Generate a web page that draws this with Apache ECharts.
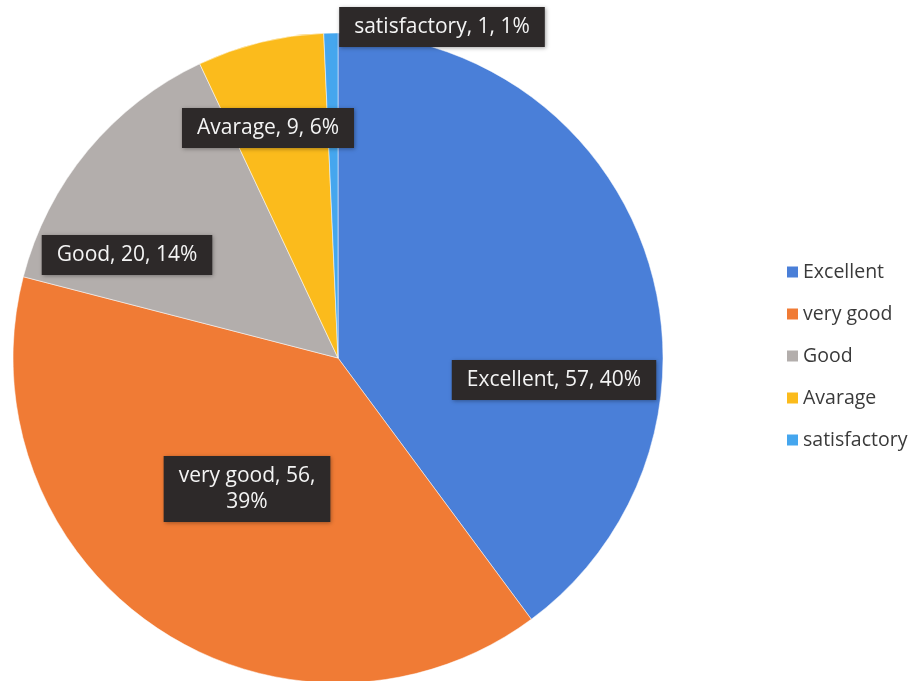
<!DOCTYPE html>
<html>
<head>
<meta charset="utf-8">
<script src="https://cdn.jsdelivr.net/npm/echarts@6/dist/echarts.min.js"></script>
<style>html,body{margin:0;padding:0;background:#fff}#c{width:912px;height:681px}</style>
</head>
<body>
<div id="c"></div>
<script>
var categories = ['Excellent', 'very good', 'Good', 'Avarage', 'satisfactory'];
var values = [57, 56, 20, 9, 1];
var colors = ['#4a7fd8', '#f07b35', '#b3aeac', '#fbbb1c', '#45a6ee'];
// label box centres (pixels)
var labelPos = [[554, 380], [247, 489], [127, 255], [268, 128], [442, 27]];

var chart = echarts.init(document.getElementById('c'));
var data = categories.map(function (n, i) {
  var item = { name: n, value: values[i], itemStyle: { color: colors[i] } };
  if (i === 1) item.label = { formatter: '{b}, {c},\n{d}%' };
  return item;
});
chart.setOption({
  backgroundColor: '#ffffff',
  animation: false,
  legend: {
    orient: 'vertical',
    left: 782,
    top: 257,
    icon: 'rect',
    itemWidth: 11,
    itemHeight: 11,
    itemGap: 22,
    itemStyle: { borderWidth: 0 },
    textStyle: { fontFamily: 'Open Sans', fontSize: 19.5, color: '#3a3a3a', padding: [0, 0, 0, 0] },
    data: categories
  },
  series: [{
    type: 'pie',
    center: [338, 358],
    radius: 325,
    startAngle: 90,
    clockwise: true,
    percentPrecision: 0,
    itemStyle: { borderColor: 'rgba(255,255,255,0.5)', borderWidth: 1 },
    label: {
      show: true,
      position: 'inside',
      formatter: '{b}, {c}, {d}%',
      fontFamily: 'Open Sans',
      fontSize: 21,
      lineHeight: 26,
      color: '#f4f4f4',
      backgroundColor: '#2d2929',
      padding: [7, 15, 7, 15],
      shadowColor: 'rgba(0,0,0,0.35)',
      shadowBlur: 4,
      shadowOffsetX: 1,
      shadowOffsetY: 1
    },
    labelLine: { show: false },
    labelLayout: function (p) {
      var pos = labelPos[p.dataIndex];
      return { x: pos[0], y: pos[1], align: 'center', verticalAlign: 'middle' };
    },
    data: data
  }]
});
</script>
</body>
</html>
